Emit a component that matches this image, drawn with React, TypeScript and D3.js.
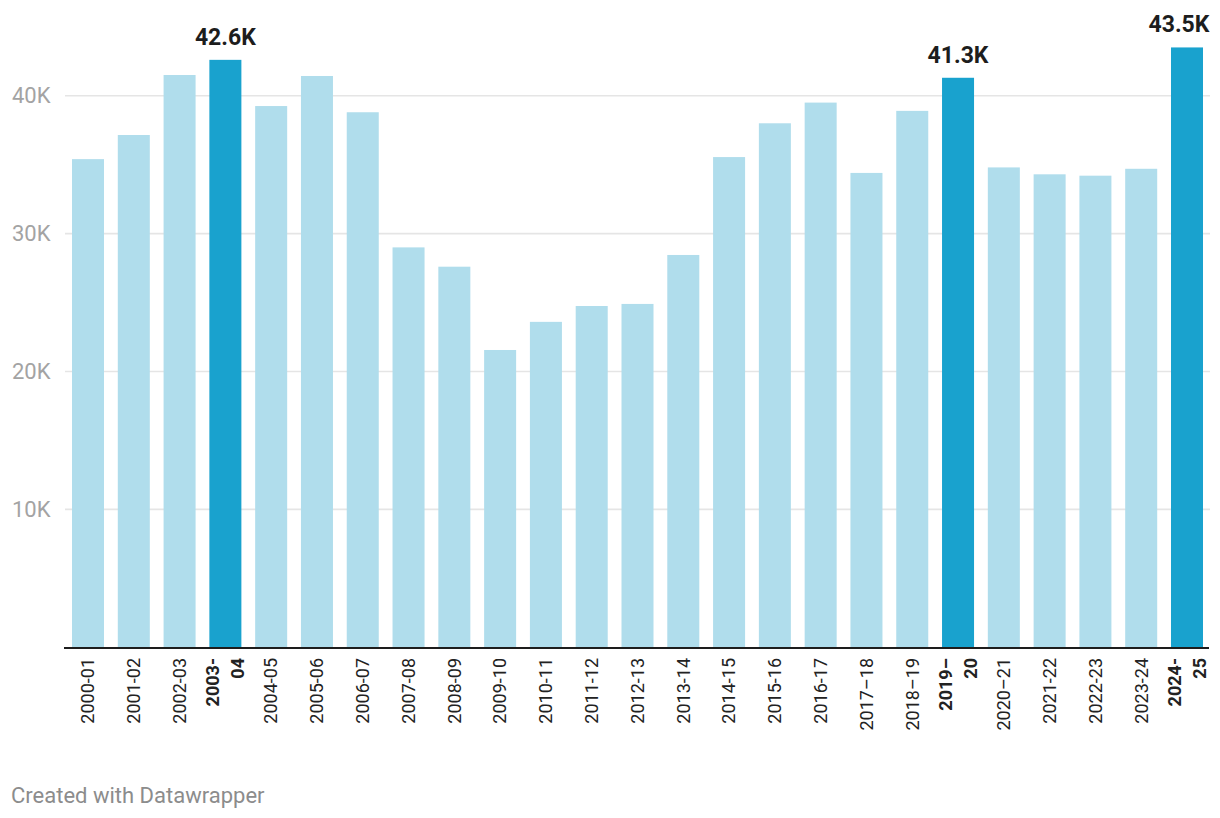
import React from "react";
import * as d3 from "d3";

const categories = [
  "2000-01", "2001-02", "2002-03", "2003-04", "2004-05", "2005-06", "2006-07",
  "2007-08", "2008-09", "2009-10", "2010-11", "2011-12", "2012-13", "2013-14",
  "2014-15", "2015-16", "2016-17", "2017–18", "2018–19", "2019–20", "2020–21",
  "2021-22", "2022-23", "2023-24", "2024-25",
];
const values = [
  35400, 37150, 41500, 42600, 39250, 41430, 38800,
  29000, 27600, 21560, 23600, 24750, 24900, 28450,
  35550, 38000, 39500, 34400, 38900, 41300, 34800,
  34300, 34200, 34700, 43500,
];
const highlighted = ["2003-04", "2019–20", "2024-25"];
const highlightLines: Record<string, string[]> = {
  "2003-04": ["2003-", "04"],
  "2019–20": ["2019–", "20"],
  "2024-25": ["2024-", "25"],
};
const valueLabels: Record<string, string> = {
  "2003-04": "42.6K",
  "2019–20": "41.3K",
  "2024-25": "43.5K",
};
const yTicks = [10000, 20000, 30000, 40000];
const footer = "Created with Datawrapper";

const W = 1220;
const H = 818;
const FONT = "Roboto, 'Noto Sans', sans-serif";
const LIGHT = "#b0ddec";
const DARK = "#19a2ce";

export default function App() {
  const x = d3
    .scaleBand<string>()
    .domain(categories)
    .range([72, 1203])
    .paddingInner(0.301)
    .paddingOuter(0);
  const y = d3.scaleLinear().domain([0, 40000]).range([647.3, 95.7]);
  const bw = x.bandwidth();

  return (
    <div style={{ position: "absolute", left: 0, top: 0 }}>
      <svg width={W} height={H} style={{ display: "block", background: "#fff" }} fontFamily={FONT}>
        {yTicks.map((t) => (
          <g key={t}>
            <line x1={65} x2={1210} y1={y(t)} y2={y(t)} stroke="#e5e5e5" strokeWidth={1.6} />
            <text x={12} y={y(t)} dy="0.35em" fontSize={22} fill="#a3a3a3">
              {d3.format("~s")(t).replace("k", "K")}
            </text>
          </g>
        ))}
        {categories.map((c, i) => {
          const isH = highlighted.includes(c);
          return (
            <rect
              key={c}
              x={x(c)}
              y={y(values[i])}
              width={bw}
              height={y(0) - y(values[i])}
              fill={isH ? DARK : LIGHT}
            />
          );
        })}
        <line x1={64} x2={1209} y1={648} y2={648} stroke="#1d1d1d" strokeWidth={2} />
        {categories.map((c, i) => {
          const cx = (x(c) as number) + bw / 2;
          const isH = highlighted.includes(c);
          if (isH) {
            const lines = highlightLines[c];
            return (
              <g key={c}>
                {lines.map((l, j) => (
                  <text
                    key={j}
                    transform={`translate(${cx + (j - 0.5) * 25},658) rotate(-90)`}
                    textAnchor="end"
                    dy="0.35em"
                    fontSize={18}
                    fontWeight={700}
                    fill="#222"
                  >
                    {l}
                  </text>
                ))}
              </g>
            );
          }
          return (
            <text
              key={c}
              transform={`translate(${cx},658) rotate(-90)`}
              textAnchor="end"
              dy="0.35em"
              fontSize={18}
              fill="#222"
            >
              {c}
            </text>
          );
        })}
        {categories.map((c, i) => {
          const lbl = valueLabels[c];
          if (!lbl) return null;
          const cx = (x(c) as number) + bw / 2;
          const half = 31;
          const lx = Math.min(cx, 1210 - half);
          return (
            <text
              key={"v" + c}
              x={lx}
              y={y(values[i]) - 15}
              textAnchor="middle"
              fontSize={23}
              fontWeight={700}
              fill="#1d1d1d"
            >
              {lbl}
            </text>
          );
        })}
        <text x={11} y={803} fontSize={22} fill="#8c8c8c">
          {footer}
        </text>
      </svg>
    </div>
  );
}
